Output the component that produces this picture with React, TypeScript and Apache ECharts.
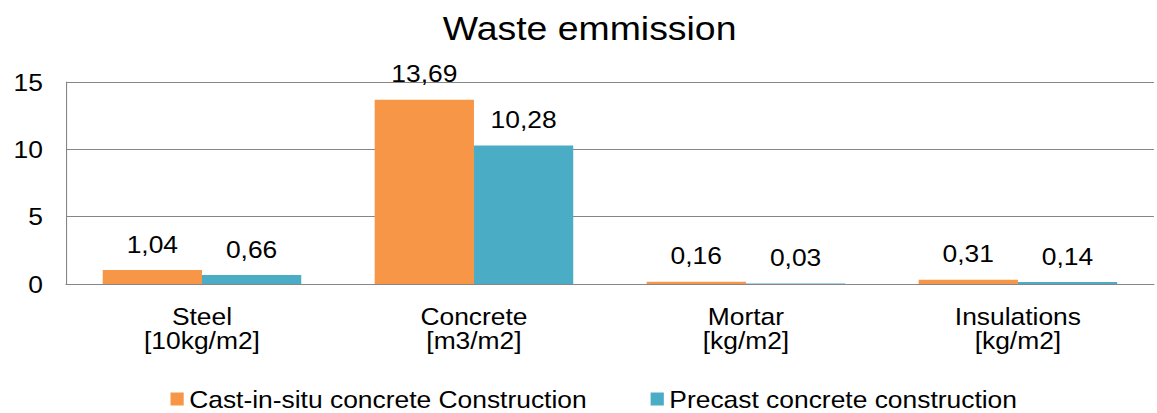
import React, { useEffect, useRef } from "react";
import * as echarts from "echarts";

const categories = ["Steel\n[10kg/m2]", "Concrete\n[m3/m2]", "Mortar\n[kg/m2]", "Insulations\n[kg/m2]"];
const castInSitu = [1.04, 13.69, 0.16, 0.31];
const precast = [0.66, 10.28, 0.03, 0.14];
const seriesNames = ["Cast-in-situ concrete Construction", "Precast concrete construction"];
const titleText = "Waste emmission";

const FONT = "'Liberation Sans', Arial, sans-serif";
const STRETCH = 1.1;
const W = 1157;
const H = 413;
const IW = Math.round(W / STRETCH);

export default function App() {
  const ref = useRef<HTMLDivElement>(null);
  useEffect(() => {
    document.body.style.margin = "0";
    const chart = echarts.init(ref.current!, null, { renderer: "svg" });
    const fmt = (p: any) => Number(p.value).toFixed(2).replace(".", ",");
    chart.setOption({
      animation: false,
      backgroundColor: "#ffffff",
      title: {
        text: titleText,
        left: 536,
        textAlign: "center",
        top: 12,
        padding: 0,
        textStyle: { fontFamily: FONT, fontSize: 34, fontWeight: "normal", color: "#000", lineHeight: 34 },
      },
      legend: {
        data: seriesNames,
        left: 155,
        top: 387,
        padding: 0,
        itemWidth: 12,
        itemHeight: 13,
        itemGap: 58,
        icon: "rect",
        textStyle: { fontFamily: FONT, fontSize: 24, color: "#000", lineHeight: 24 },
      },
      grid: { left: 60, right: 3, top: 82, bottom: 129, containLabel: false },
      xAxis: {
        type: "category",
        data: categories,
        axisLine: { show: true, lineStyle: { color: "#868686", width: 1 } },
        axisTick: { show: false },
        axisLabel: { fontFamily: FONT, fontSize: 24, color: "#000", lineHeight: 24, margin: 20, interval: 0 },
      },
      yAxis: {
        type: "value",
        min: 0,
        max: 15,
        interval: 5,
        axisLine: { show: true, lineStyle: { color: "#868686", width: 1 } },
        axisTick: { show: false },
        splitLine: { show: true, lineStyle: { color: "#868686", width: 1 } },
        axisLabel: { fontFamily: FONT, fontSize: 24, color: "#000", margin: 21 },
      },
      series: [
        {
          name: seriesNames[0],
          type: "bar",
          data: castInSitu,
          barGap: "0%",
          barCategoryGap: "27%",
          itemStyle: { color: "#F79646" },
          label: { show: true, position: "top", distance: 14, formatter: fmt, fontFamily: FONT, fontSize: 24, color: "#000", lineHeight: 24 },
        },
        {
          name: seriesNames[1],
          type: "bar",
          data: precast,
          barGap: "0%",
          barCategoryGap: "27%",
          itemStyle: { color: "#4BACC6" },
          label: { show: true, position: "top", distance: 14, formatter: fmt, fontFamily: FONT, fontSize: 24, color: "#000", lineHeight: 24 },
        },
      ],
    });
    return () => chart.dispose();
  }, []);
  return (
    <div style={{ position: "absolute", left: 0, top: 0, width: W, height: H, overflow: "hidden", background: "#fff" }}>
      <div
        ref={ref}
        style={{ width: IW, height: H, transform: `scaleX(${STRETCH})`, transformOrigin: "0 0" }}
      />
    </div>
  );
}
